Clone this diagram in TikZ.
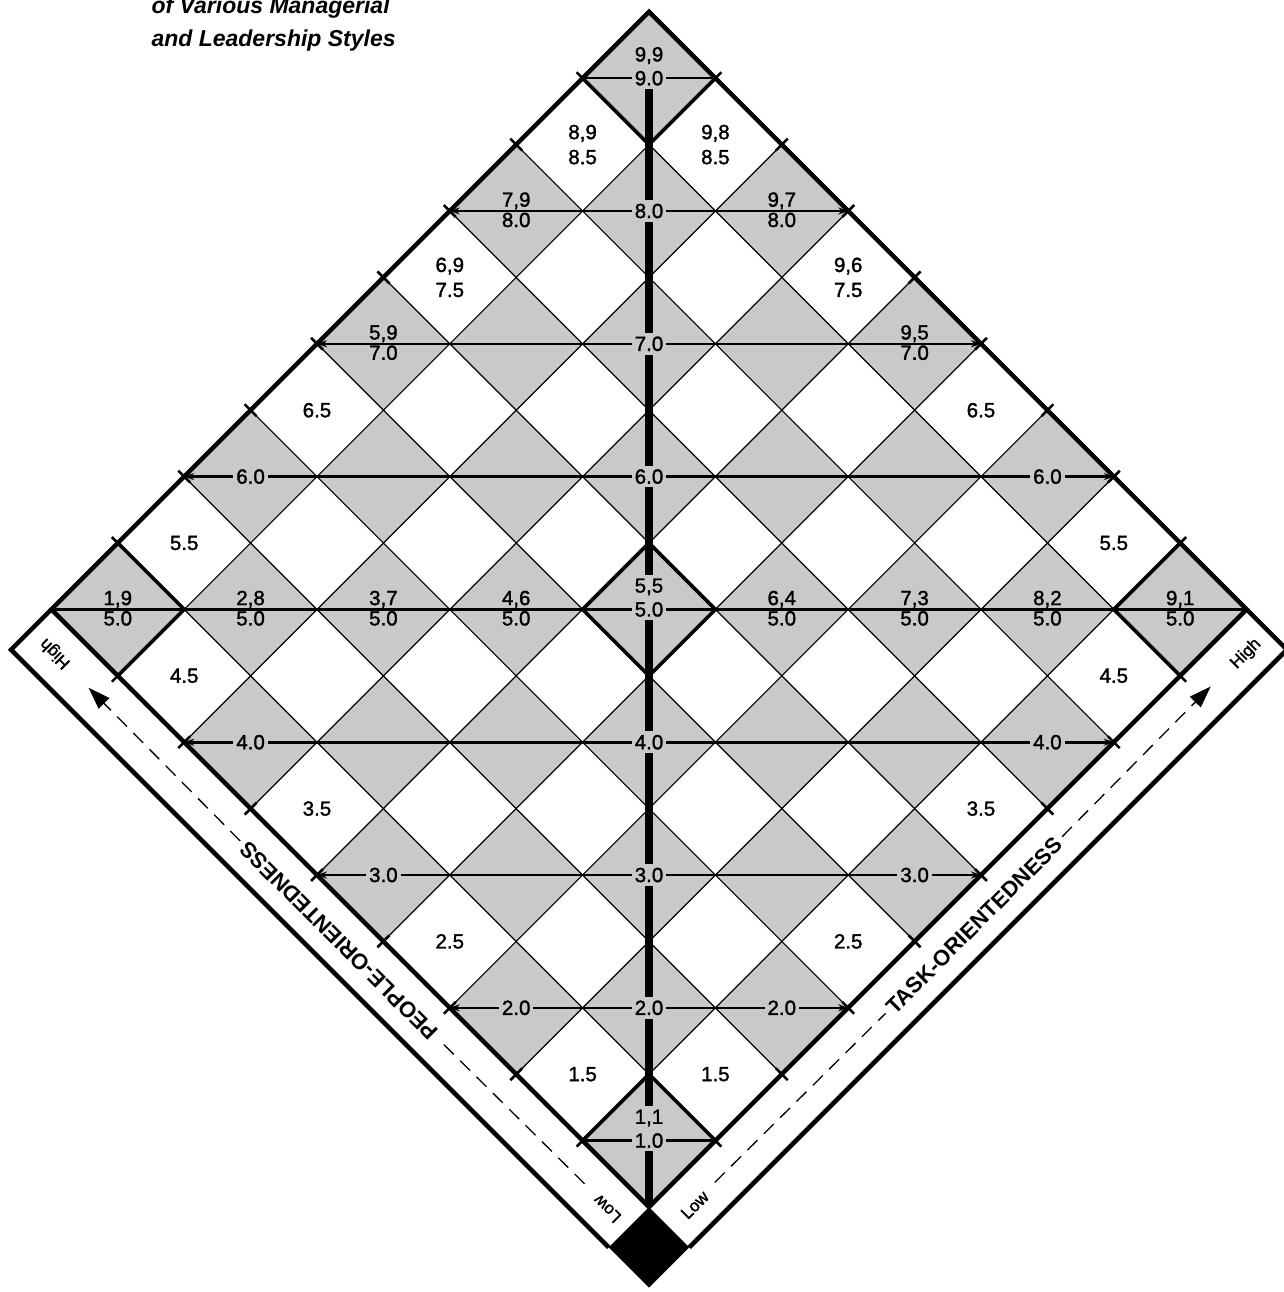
\documentclass[tikz,border=0pt]{standalone}
\usepackage{fontspec}
\setmainfont{Liberation Sans}
\newfontfamily\lblfont[FakeBold=1.6]{Liberation Sans}
\usepackage{xcolor}
\usetikzlibrary{positioning,arrows.meta}
\definecolor{stipple}{gray}{0.79}

\begin{document}
\begin{tikzpicture}[x=1pt,y=-1pt,
  every node/.style={font=\lblfont\fontsize{20.5}{25}\selectfont},
  gridline/.style={line width=1.2pt},
  levelline/.style={line width=2.6pt},
  levelarrow/.style={levelline,{Stealth[length=10pt,width=7pt]}-{Stealth[length=10pt,width=7pt]}},
  boldcell/.style={line width=3.6pt,line join=miter},
  rim/.style={line width=4.5pt,line join=miter},
  tickmark/.style={line width=2.6pt},
  onlbl/.style={fill=stipple,inner xsep=3pt,inner ysep=3.5pt},
  pairlbl/.style={inner sep=1.5pt},
  axislbl/.style={font=\fontsize{22}{24}\selectfont\bfseries,inner sep=5pt},
  endlbl/.style={font=\lblfont\fontsize{17}{20}\selectfont},
  guide/.style={line width=1.3pt,dash pattern=on 14pt off 9pt}]
  \useasboundingbox (0,0) rectangle (1283,1292);
  % title, cut off by the top edge
  \node[anchor=base west,font=\fontsize{23}{28}\selectfont\bfseries\itshape] (title1) at (148,14) {of Various Managerial};
  \node[anchor=base west,font=\fontsize{23}{28}\selectfont\bfseries\itshape] (title2) at (148,47) {and Leadership Styles};
  \begin{scope}[shift={(649,1207)},x={(66.4pt,66.4pt)},y={(-66.4pt,66.4pt)}]
    \foreach \ta in {1,...,9}
      \foreach \pe in {1,...,9} {
        \ifodd\numexpr\ta+\pe\relax\else
          \fill[stipple] (\ta-1,\pe-1) -- (\ta,\pe-1) -- (\ta,\pe) -- (\ta-1,\pe) -- cycle;
        \fi
      }
    \foreach \k in {1,...,8} {
      \draw[gridline] (\k,0) -- (\k,9);
      \draw[gridline] (0,\k) -- (9,\k);
    }
    % level lines
    \foreach \a in {2,3,4,6,7,8} {
      \pgfmathtruncatemacro\lo{max(0,2*\a-10)}
      \pgfmathtruncatemacro\hi{min(2*\a-1,9)}
      \draw[levelarrow] (\lo,\hi) -- (\hi,\lo);
    }
    \foreach \a in {1,5,9} {
      \pgfmathtruncatemacro\lo{max(0,2*\a-10)}
      \pgfmathtruncatemacro\hi{min(2*\a-1,9)}
      \draw[levelline] (\lo,\hi) -- (\hi,\lo);
    }
    \draw[line width=8pt] (8.5,8.5) -- (0,0);
    \foreach \ta/\pe in {9/9,1/9,9/1,1/1,5/5}
      \draw[boldcell] (\ta-1,\pe-1) -- (\ta,\pe-1) -- (\ta,\pe) -- (\ta-1,\pe) -- cycle;
    \draw[rim] (0,0) -- (9,0) -- (9,9) -- (0,9) -- cycle;
    \foreach \k in {1,...,8} {
      \draw[tickmark] (-0.09,\k) -- (0.09,\k);
      \draw[tickmark] (\k,-0.09) -- (\k,0.09);
      \draw[tickmark] (\k,8.91) -- (\k,9.09);
      \draw[tickmark] (8.91,\k) -- (9.09,\k);
    }
    % frame along the two lower sides
    \fill (0,0) -- (-0.607,0) -- (-0.607,-0.607) -- (0,-0.607) -- cycle;
    \draw[rim] (0,9) -- (-0.607,9) -- (-0.607,0);
    \draw[rim] (9,0) -- (9,-0.607) -- (0,-0.607);
    % cell labels
    \foreach \ta/\pe/\m in {7/9/8.0,9/7/8.0,5/9/7.0,9/5/7.0,1/9/5.0,2/8/5.0,3/7/5.0,4/6/5.0,6/4/5.0,7/3/5.0,8/2/5.0,9/1/5.0} {
      \node[pairlbl,anchor=south] (pr\ta\pe) at (\ta-0.5,\pe-0.5) {\ta,\pe};
      \node[pairlbl,anchor=north] (av\ta\pe) at (\ta-0.5,\pe-0.5) {\m};
    }
    \foreach \ta/\pe/\m in {8/9/8.5,9/8/8.5,6/9/7.5,9/6/7.5}
      \node[align=center] (pr\ta\pe) at (\ta-0.5,\pe-0.5) {\ta,\pe\\\m};
    \foreach \ta/\pe/\m in {3/9/6.0,9/3/6.0,8/8/8.0,7/7/7.0,6/6/6.0,4/4/4.0,3/3/3.0,2/2/2.0,1/7/4.0,7/1/4.0,1/5/3.0,5/1/3.0,1/3/2.0,3/1/2.0}
      \node[onlbl] (av\ta\pe) at (\ta-0.5,\pe-0.5) {\m};
    \foreach \ta/\pe/\m in {4/9/6.5,9/4/6.5,2/9/5.5,9/2/5.5,1/8/4.5,8/1/4.5,1/6/3.5,6/1/3.5,1/4/2.5,4/1/2.5,1/2/1.5,2/1/1.5}
      \node (av\ta\pe) at (\ta-0.5,\pe-0.5) {\m};
    \foreach \ta/\m in {9/9.0,5/5.0,1/1.0} {
      \node[onlbl] (av\ta\ta) at (\ta-0.5,\ta-0.5) {\m};
      \node[onlbl,above=-0.5pt of av\ta\ta] (pr\ta\ta) {\ta,\ta};
    }
    % axis captions in the frame
    \node[axislbl,rotate=135] (people) at (-0.33,4.34) {PEOPLE-ORIENTEDNESS};
    \node[axislbl,rotate=45] (task) at (4.57,-0.33) {TASK-ORIENTEDNESS};
    \node[endlbl,rotate=135] (highP) at (-0.3,8.64) {High};
    \node[endlbl,rotate=135] (lowP) at (-0.33,0.3) {Low};
    \node[endlbl,rotate=45] (highT) at (8.66,-0.33) {High};
    \node[endlbl,rotate=45] (lowT) at (0.36,-0.33) {Low};
    \coordinate (tailP) at (-0.31,0.66);
    \coordinate (tipP) at (-0.31,8.13);
    \coordinate (tailT) at (0.68,-0.31);
    \coordinate (tipT) at (8.15,-0.31);
    \draw[guide] (tailP) -- (people);
    \draw[guide,-{Triangle[length=22pt,width=15pt]}] (people) -- (tipP);
    \draw[guide] (tailT) -- (task);
    \draw[guide,-{Triangle[length=22pt,width=15pt]}] (task) -- (tipT);
  \end{scope}
\end{tikzpicture}
\end{document}
